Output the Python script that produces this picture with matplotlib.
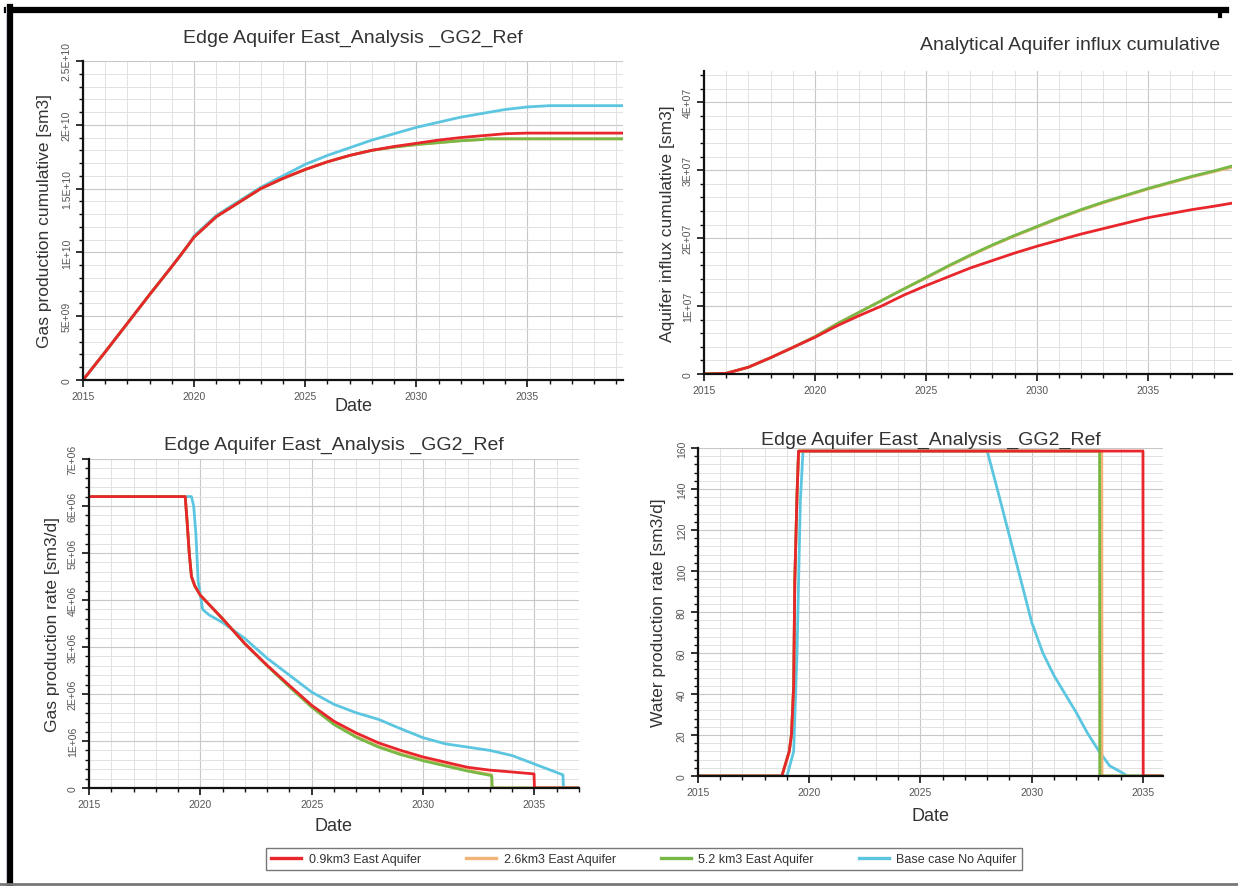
import matplotlib
matplotlib.use("Agg")
import matplotlib.pyplot as plt
from matplotlib.lines import Line2D
from matplotlib.ticker import MultipleLocator, FuncFormatter
import numpy as np

plt.rcParams['font.family'] = ['Liberation Sans', 'DejaVu Sans']

# ---------------- data ----------------
series_names = ["0.9km3 East Aquifer", "2.6km3 East Aquifer", "5.2 km3 East Aquifer", "Base case No Aquifer"]
series_colors = ["#e8262b", "#f2b477", "#78b844", "#5cc6e0"]

# Panel 1: gas production cumulative [sm3]
cum_years_red = [2015.0, 2016, 2017, 2018, 2019, 2019.4, 2020, 2021, 2022, 2023, 2024, 2025, 2026, 2027, 2028, 2029, 2030, 2031, 2032, 2033, 2034, 2035, 2039.3]
cum_red = [0, 2.2e9, 4.45e9, 6.7e9, 8.9e9, 9.8e9, 11.2e9, 12.8e9, 13.9e9, 15.0e9, 15.8e9, 16.5e9, 17.1e9, 17.6e9, 18.0e9, 18.3e9, 18.55e9, 18.8e9, 19.0e9, 19.15e9, 19.3e9, 19.35e9, 19.35e9]
cum_years_grn = [2015.0, 2016, 2017, 2018, 2019, 2019.4, 2020, 2021, 2022, 2023, 2024, 2025, 2026, 2027, 2028, 2029, 2030, 2031, 2032, 2033, 2033.1, 2039.3]
cum_grn = [0, 2.2e9, 4.45e9, 6.7e9, 8.9e9, 9.8e9, 11.2e9, 12.8e9, 13.9e9, 15.0e9, 15.8e9, 16.5e9, 17.1e9, 17.6e9, 18.0e9, 18.25e9, 18.45e9, 18.6e9, 18.75e9, 18.85e9, 18.9e9, 18.9e9]
cum_org = [0, 2.2e9, 4.45e9, 6.7e9, 8.9e9, 9.8e9, 11.2e9, 12.8e9, 13.9e9, 15.0e9, 15.8e9, 16.5e9, 17.1e9, 17.6e9, 18.0e9, 18.25e9, 18.45e9, 18.6e9, 18.75e9, 18.85e9, 18.9e9, 18.9e9]
cum_years_cyn = [2015.0, 2016, 2017, 2018, 2019, 2019.7, 2020, 2021, 2022, 2023, 2024, 2025, 2026, 2027, 2028, 2029, 2030, 2031, 2032, 2033, 2034, 2035, 2036, 2036.3, 2039.3]
cum_cyn = [0, 2.2e9, 4.45e9, 6.7e9, 8.9e9, 10.5e9, 11.3e9, 12.9e9, 14.0e9, 15.1e9, 16.0e9, 16.9e9, 17.6e9, 18.2e9, 18.8e9, 19.3e9, 19.8e9, 20.2e9, 20.6e9, 20.9e9, 21.2e9, 21.4e9, 21.5e9, 21.5e9, 21.5e9]

# Panel 2: aquifer influx cumulative [sm3]
infl_years = [2015.0, 2016.0, 2017, 2018, 2019, 2020, 2021, 2022, 2023, 2024, 2025, 2026, 2027, 2028, 2029, 2030, 2031, 2032, 2033, 2034, 2035, 2036, 2037, 2038, 2038.9]
infl_red = [0, 0.01e7, 0.1e7, 0.24e7, 0.39e7, 0.54e7, 0.71e7, 0.86e7, 1.0e7, 1.16e7, 1.30e7, 1.43e7, 1.56e7, 1.67e7, 1.78e7, 1.88e7, 1.97e7, 2.06e7, 2.14e7, 2.22e7, 2.30e7, 2.36e7, 2.42e7, 2.47e7, 2.52e7]
infl_grn = [0, 0.01e7, 0.1e7, 0.24e7, 0.39e7, 0.55e7, 0.74e7, 0.91e7, 1.08e7, 1.25e7, 1.42e7, 1.59e7, 1.75e7, 1.90e7, 2.04e7, 2.17e7, 2.30e7, 2.42e7, 2.53e7, 2.63e7, 2.73e7, 2.82e7, 2.91e7, 2.99e7, 3.07e7]
infl_org = [0, 0.01e7, 0.1e7, 0.24e7, 0.39e7, 0.55e7, 0.74e7, 0.91e7, 1.08e7, 1.25e7, 1.41e7, 1.58e7, 1.74e7, 1.89e7, 2.03e7, 2.16e7, 2.29e7, 2.41e7, 2.52e7, 2.62e7, 2.72e7, 2.81e7, 2.90e7, 2.98e7, 3.05e7]

# Panel 3: gas production rate [sm3/d]
rate_years_red = [2015.0, 2019.32, 2019.4, 2019.5, 2019.6, 2019.75, 2020, 2020.5, 2021, 2022, 2023, 2024, 2025, 2026, 2027, 2028, 2029, 2030, 2031, 2032, 2033, 2034, 2034.98, 2035.0, 2037.0]
rate_red = [6.2e6, 6.2e6, 5.7e6, 5.0e6, 4.5e6, 4.3e6, 4.1e6, 3.85e6, 3.6e6, 3.07e6, 2.61e6, 2.18e6, 1.76e6, 1.42e6, 1.17e6, 0.96e6, 0.80e6, 0.66e6, 0.55e6, 0.44e6, 0.38e6, 0.34e6, 0.30e6, 0.0, 0.0]
rate_years_grn = [2015.0, 2019.32, 2019.4, 2019.5, 2019.6, 2019.75, 2020, 2020.5, 2021, 2022, 2023, 2024, 2025, 2026, 2027, 2028, 2029, 2030, 2031, 2032, 2033.0, 2033.08, 2033.1, 2037.0]
rate_grn = [6.2e6, 6.2e6, 5.7e6, 5.0e6, 4.5e6, 4.3e6, 4.1e6, 3.85e6, 3.6e6, 3.07e6, 2.60e6, 2.15e6, 1.72e6, 1.35e6, 1.08e6, 0.87e6, 0.71e6, 0.58e6, 0.47e6, 0.36e6, 0.27e6, 0.26e6, 0.0, 0.0]
rate_org = [6.2e6, 6.2e6, 5.7e6, 5.0e6, 4.5e6, 4.3e6, 4.1e6, 3.85e6, 3.6e6, 3.07e6, 2.60e6, 2.16e6, 1.73e6, 1.37e6, 1.10e6, 0.89e6, 0.73e6, 0.60e6, 0.49e6, 0.38e6, 0.29e6, 0.28e6, 0.0, 0.0]
rate_years_cyn = [2015.0, 2019.6, 2019.7, 2019.8, 2019.9, 2020.1, 2020.4, 2021, 2022, 2023, 2024, 2025, 2026, 2027, 2028, 2029, 2030, 2031, 2032, 2033, 2034, 2035, 2036.28, 2036.3, 2037.0]
rate_cyn = [6.2e6, 6.2e6, 6.0e6, 5.4e6, 4.4e6, 3.8e6, 3.68e6, 3.52e6, 3.18e6, 2.76e6, 2.40e6, 2.04e6, 1.78e6, 1.60e6, 1.46e6, 1.26e6, 1.07e6, 0.94e6, 0.87e6, 0.80e6, 0.69e6, 0.51e6, 0.28e6, 0.0, 0.0]

# Panel 4: water production rate [sm3/d]
wat_years_red = [2015.0, 2018.77, 2019.1, 2019.2, 2019.3, 2019.35, 2019.45, 2019.52, 2035.0, 2035.01, 2035.9]
wat_red = [0, 0, 12, 20, 44, 95, 137, 158.5, 158.5, 0, 0]
wat_years_grn = [2015.0, 2018.77, 2019.1, 2019.2, 2019.3, 2019.35, 2019.45, 2019.52, 2033.05, 2033.06, 2035.9]
wat_grn = [0, 0, 12, 20, 44, 95, 137, 158.5, 158.5, 0, 0]
wat_years_org = [2015.0, 2018.77, 2019.1, 2019.2, 2019.3, 2019.35, 2019.45, 2019.52, 2033.15, 2033.16, 2035.9]
wat_org = [0, 0, 12, 20, 44, 95, 137, 158.5, 158.5, 0, 0]
wat_years_cyn = [2015.0, 2019.0, 2019.3, 2019.45, 2019.6, 2019.72, 2028.0, 2028.5, 2029, 2029.5, 2030, 2030.5, 2031, 2031.5, 2032, 2032.5, 2033, 2033.5, 2034, 2034.3, 2035.9]
wat_cyn = [0, 0, 12, 60, 134, 158.5, 158.5, 138, 117, 96, 75, 60, 49, 40, 31, 21, 12.5, 5, 2, 0, 0]

# ---------------- figure ----------------
W, H = 1238, 887
fig = plt.figure(figsize=(W / 100, H / 100), dpi=100)
fig.patch.set_facecolor("white")


def rect(l, t, r, b):
    return [l / W, 1 - b / H, (r - l) / W, (b - t) / H]


def sci(v, pos):
    if v == 0:
        return "0"
    s = f"{v:.1E}"
    mant, exp = s.split("E")
    if mant.endswith(".0"):
        mant = mant[:-2]
    return f"{mant}E{exp}"


def style(ax, xmax, ymax, ymajor, yminor, fmt, ylabel, xlabelpad, ylabelpad):
    ax.set_xlim(2015, xmax)
    ax.set_ylim(0, ymax)
    ax.xaxis.set_major_locator(MultipleLocator(5))
    ax.xaxis.set_minor_locator(MultipleLocator(1))
    ax.yaxis.set_major_locator(MultipleLocator(ymajor))
    ax.yaxis.set_minor_locator(MultipleLocator(yminor))
    ax.xaxis.set_major_formatter(FuncFormatter(lambda v, p: f"{int(round(v))}"))
    ax.yaxis.set_major_formatter(FuncFormatter(fmt))
    for s in ["top", "right"]:
        ax.spines[s].set_visible(False)
    for s in ["left", "bottom"]:
        ax.spines[s].set_linewidth(1.6)
        ax.spines[s].set_color("#111111")
    ax.grid(True, which="major", color="#c8c8c8", linewidth=0.8)
    ax.grid(True, which="minor", color="#e2e2e2", linewidth=0.7)
    ax.set_axisbelow(True)
    ax.tick_params(axis="both", which="major", length=5, width=1.2, labelsize=7.5,
                   labelcolor="#555555", color="#111111", pad=3)
    ax.tick_params(axis="both", which="minor", length=3, width=1.0, color="#111111")
    for lab in ax.get_yticklabels():
        lab.set_rotation(90)
        lab.set_va("center")
    ax.set_xlabel("Date", fontsize=13, color="#333333", labelpad=xlabelpad)
    ax.set_ylabel(ylabel, fontsize=12.5, color="#333333", labelpad=ylabelpad)


lw = 2.0

# Panel 1
ax1 = fig.add_axes(rect(83, 62, 623, 381))
ax1.plot(cum_years_cyn, cum_cyn, color=series_colors[3], lw=lw)
ax1.plot(cum_years_grn, cum_org, color=series_colors[1], lw=lw)
ax1.plot(cum_years_grn, cum_grn, color=series_colors[2], lw=lw)
ax1.plot(cum_years_red, cum_red, color=series_colors[0], lw=lw)
style(ax1, 2039.3, 2.5e10, 5e9, 1e9, sci, "Gas production cumulative [sm3]", -3, 7)
ax1.set_title("Edge Aquifer East_Analysis _GG2_Ref", fontsize=14, color="#333333", pad=14)

# Panel 2
ax2 = fig.add_axes(rect(704, 72, 1232, 375))
ax2.plot(infl_years, infl_org, color=series_colors[1], lw=lw)
ax2.plot(infl_years, infl_grn, color=series_colors[2], lw=lw)
ax2.plot(infl_years, infl_red, color=series_colors[0], lw=lw)
style(ax2, 2038.8, 4.46e7, 1e7, 2e6, sci, "Aquifer influx cumulative [sm3]", 0, 6)
ax2.set_xlabel("")
fig.text(1220 / W, 1 - 45 / H, "Analytical Aquifer influx cumulative", ha="right", va="center",
         fontsize=14, color="#333333")

# Panel 3
ax3 = fig.add_axes(rect(89, 460, 579, 789))
ax3.plot(rate_years_cyn, rate_cyn, color=series_colors[3], lw=lw)
ax3.plot(rate_years_grn, rate_org, color=series_colors[1], lw=lw)
ax3.plot(rate_years_grn, rate_grn, color=series_colors[2], lw=lw)
ax3.plot(rate_years_red, rate_red, color=series_colors[0], lw=lw)
style(ax3, 2037.0, 7e6, 1e6, 2e5, sci, "Gas production rate [sm3/d]", 6, 6)
ax3.set_title("Edge Aquifer East_Analysis _GG2_Ref", fontsize=14, color="#333333", pad=7)

# Panel 4
ax4 = fig.add_axes(rect(698, 449, 1163, 777))
ax4.plot(wat_years_cyn, wat_cyn, color=series_colors[3], lw=lw)
ax4.plot(wat_years_org, wat_org, color=series_colors[1], lw=lw)
ax4.plot(wat_years_grn, wat_grn, color=series_colors[2], lw=lw)
ax4.plot(wat_years_red, wat_red, color=series_colors[0], lw=lw)
style(ax4, 2035.9, 160, 20, 4, lambda v, p: f"{int(round(v))}", "Water production rate [sm3/d]", 7, 8)
ax4.set_title("Edge Aquifer East_Analysis _GG2_Ref", fontsize=14, color="#333333", pad=3)

# Legend
handles = [Line2D([0], [0], color=c, lw=2.4) for c in series_colors]
leg = fig.legend(handles, series_names, loc="center", bbox_to_anchor=(644 / W, 1 - 860 / H),
                 ncol=4, fontsize=9, frameon=True, fancybox=False, edgecolor="#555555",
                 handlelength=2.4, handletextpad=0.6, columnspacing=3.6, borderpad=0.4)
leg.get_frame().set_linewidth(1.0)
for t in leg.get_texts():
    t.set_color("#333333")

# Frame lines (screenshot border)
fig.add_artist(Line2D([7 / W, 1226 / W], [1 - 10.5 / H, 1 - 10.5 / H], color="black", lw=4.5, transform=fig.transFigure))
fig.add_artist(Line2D([10 / W, 10 / W], [0, 1 - 8 / H], color="black", lw=4.5, transform=fig.transFigure))
fig.add_artist(Line2D([6 / W, 6 / W], [0, 1 - 8 / H], color="#c8c8d8", lw=0.8, transform=fig.transFigure))
fig.add_artist(Line2D([0, 1], [1 - 885 / H, 1 - 885 / H], color="#777777", lw=2, transform=fig.transFigure))
fig.add_artist(Line2D([1219.5 / W, 1219.5 / W], [1 - 13 / H, 1 - 17 / H], color="black", lw=3, transform=fig.transFigure))

fig.savefig("out.png", dpi=100, facecolor="white")
